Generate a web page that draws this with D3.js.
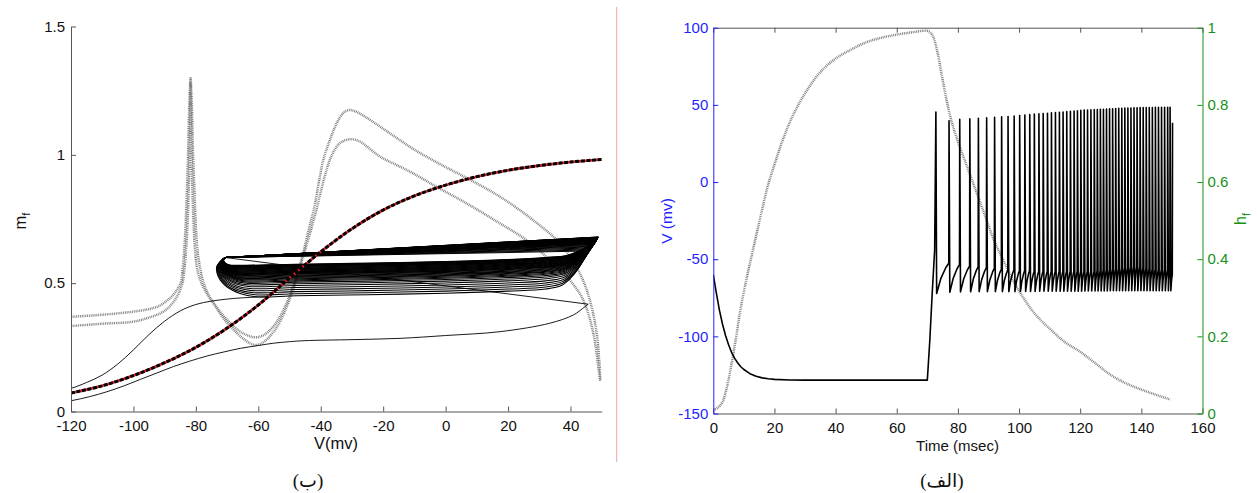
<!DOCTYPE html>
<html>
<head>
<meta charset="utf-8">
<script src="https://cdn.jsdelivr.net/npm/d3@7"></script>
<style>
  html, body { margin: 0; padding: 0; background: #fff; }
  svg { display: block; }
</style>
</head>
<body>
<svg id="fig" width="1257" height="493"></svg>
<script>
// ---------- Panel (b): phase plane m_f versus V ----------
const phaseXTicks = [-120, -100, -80, -60, -40, -20, 0, 20, 40];
const phaseYTicks = [0, 0.5, 1, 1.5];

// steady-state activation curve
const minfV = [-120, -110, -100, -90, -80, -70, -60, -50, -40, -30, -20, -10, 0, 10, 20, 30, 40, 50];
const minfM = [0.072, 0.1, 0.14, 0.19, 0.25, 0.325, 0.415, 0.52, 0.622, 0.712, 0.785, 0.84, 0.882, 0.915, 0.94, 0.958, 0.972, 0.982];

// dotted nullcline-like curves (upper and lower)
const curveUV = [-120, -110, -100, -95, -92, -89, -87, -84.9, -84.3, -83.9, -83.4, -82.9, -82.5, -82.1, -81.7, -81.3, -80.9, -80.4, -79.9, -79.2, -77.5, -75.5, -72, -69, -66, -63.5, -61, -58.5, -56, -53.5, -51, -48.5, -46, -44, -42, -40.5, -39.2, -37, -35, -33, -31.2, -29, -26, -21, -15, -10, -2, 6.7, 17.4, 28, 36.6, 43, 46.2, 48.4, 49.2, 49.6];
const curveUM = [0.369, 0.377, 0.389, 0.399, 0.41, 0.434, 0.458, 0.5, 0.55, 0.6, 0.7, 0.85, 1.0, 1.2, 1.298, 1.2, 1.0, 0.85, 0.7, 0.6, 0.5, 0.445, 0.385, 0.345, 0.313, 0.297, 0.289, 0.296, 0.32, 0.36, 0.42, 0.5, 0.6, 0.7, 0.8, 0.9, 0.98, 1.06, 1.12, 1.16, 1.174, 1.17, 1.15, 1.11, 1.06, 1.02, 0.965, 0.91, 0.837, 0.746, 0.655, 0.538, 0.434, 0.305, 0.2, 0.123];
const curveLV = [-120, -110, -100, -94, -91, -89, -87, -85.5, -84.3, -83.7, -83.2, -82.7, -82.3, -82, -81.7, -81.4, -81.1, -80.7, -80.2, -79.5, -78.2, -76.5, -74, -71, -68, -65, -62.5, -61, -59, -56.5, -54, -51.5, -49, -46.5, -44, -41.5, -39.5, -37.1, -35.5, -33.9, -31.2, -28, -21, -14.6, -10.4, -3, 6.7, 17.4, 25.9, 33.4, 39.8, 44.1, 47.3, 48.9, 49.5];
const curveLM = [0.333, 0.342, 0.35, 0.37, 0.385, 0.402, 0.43, 0.46, 0.5, 0.55, 0.62, 0.72, 0.86, 1.0, 1.28, 1.0, 0.86, 0.72, 0.62, 0.55, 0.5, 0.46, 0.415, 0.36, 0.32, 0.285, 0.265, 0.259, 0.265, 0.29, 0.33, 0.39, 0.47, 0.57, 0.67, 0.78, 0.88, 0.98, 1.02, 1.045, 1.06, 1.055, 0.993, 0.954, 0.928, 0.876, 0.811, 0.733, 0.668, 0.59, 0.512, 0.434, 0.305, 0.175, 0.12];

// trajectory: initial relaxation, ramp into the first spike, first repolarisation
const decayV = [-128, -120, -115, -110, -105, -100, -95, -90, -85, -80, -75, -70, -65, -60, -56];
const decayM = [0.065, 0.09, 0.113, 0.142, 0.185, 0.24, 0.3, 0.352, 0.392, 0.417, 0.43, 0.438, 0.443, 0.446, 0.448];
const rampV = [-128, -120, -114, -108.5, -103, -97.8, -92.5, -87.2, -82, -76.5, -71, -65.8, -60, -55.2, -50, -45, -30, -14.6, 0, 17.4, 33.4, 40.9, 44.6, 45.7];
const rampM = [0.03, 0.042, 0.058, 0.077, 0.1, 0.125, 0.15, 0.175, 0.196, 0.216, 0.232, 0.246, 0.257, 0.266, 0.272, 0.276, 0.28, 0.285, 0.296, 0.311, 0.344, 0.376, 0.408, 0.418];
const firstDownV = [45.7, -70.6];
const firstDownM = [0.418, 0.6];

// repetitive firing cycles: lower level of the recovery branch and the spike tip
const cycleLow = [0.447, 0.455, 0.463, 0.471, 0.479, 0.487, 0.494, 0.5, 0.505, 0.509, 0.513, 0.516, 0.519, 0.522, 0.525, 0.528, 0.531, 0.533, 0.535, 0.537, 0.539, 0.541, 0.543, 0.545, 0.547, 0.549, 0.551, 0.553, 0.555, 0.557, 0.559, 0.561, 0.563, 0.564, 0.565, 0.566, 0.567, 0.568, 0.569, 0.57];
const cyclePeakV = [45.2, 45.6, 46.0, 46.3, 46.6, 46.9, 47.1, 47.3, 47.5, 47.6, 47.7, 47.8, 47.9, 48.0, 48.1, 48.15, 48.2, 48.25, 48.3, 48.35, 48.4, 48.45, 48.5, 48.5, 48.55, 48.6, 48.6, 48.65, 48.7, 48.7, 48.75, 48.75, 48.8, 48.8, 48.85, 48.85, 48.9, 48.9, 48.9, 48.9];
const cyclePeakM = [0.625, 0.629, 0.633, 0.637, 0.641, 0.644, 0.647, 0.65, 0.652, 0.654, 0.656, 0.658, 0.66, 0.661, 0.662, 0.663, 0.664, 0.665, 0.666, 0.667, 0.668, 0.669, 0.67, 0.671, 0.672, 0.672, 0.673, 0.674, 0.674, 0.675, 0.676, 0.676, 0.677, 0.677, 0.678, 0.678, 0.679, 0.679, 0.68, 0.68];
const cycleTurnV = -70.6, cycleTurnM = 0.6;

// ---------- Panel (a): membrane potential and h_f versus time ----------
const timeTicks = [0, 20, 40, 60, 80, 100, 120, 140, 160];
const vTicks = [-150, -100, -50, 0, 50, 100];
const hTicks = [0, 0.2, 0.4, 0.6, 0.8, 1];

const restT = [0, 1, 2, 3, 4, 5, 6, 7, 8, 9, 10, 12, 14, 16, 18, 20, 25, 30, 50, 70, 70.8, 71.6, 72.4];
const restV = [-60, -72, -83, -92, -99.5, -105.5, -110.5, -114.3, -117.3, -119.7, -121.5, -124.2, -125.9, -126.9, -127.5, -127.9, -128.3, -128.4, -128.4, -128.4, -103, -72, -44];

const spikeT = [72.8, 77.1, 80.6, 83.9, 86.7, 89.4, 92.0, 94.3, 96.4, 98.4, 100.2, 101.9, 103.5, 105.0, 106.5, 107.9, 109.3, 110.6, 111.9, 113.2, 114.4, 115.6, 116.8, 118.0, 119.1, 120.2, 121.3, 122.4, 123.5, 124.6, 125.6, 126.6, 127.6, 128.6, 129.6, 130.6, 131.6, 132.6, 133.6, 134.6, 135.6, 136.6, 137.6, 138.6, 139.6, 140.6, 141.6, 142.6, 143.6, 144.6, 145.6, 146.6, 147.6, 148.6, 149.4, 150.2];
const spikePeak = [45.3, 39.7, 40.6, 41.0, 41.3, 41.6, 41.9, 42.2, 42.5, 42.8, 43.1, 43.4, 43.7, 44.0, 44.2, 44.4, 44.6, 44.8, 45.0, 45.2, 45.4, 45.6, 45.8, 46.0, 46.2, 46.4, 46.6, 46.7, 46.8, 46.9, 47.0, 47.1, 47.2, 47.3, 47.4, 47.5, 47.6, 47.7, 47.8, 47.9, 48.0, 48.0, 48.1, 48.1, 48.2, 48.2, 48.3, 48.3, 48.3, 48.4, 48.4, 48.4, 48.4, 48.4, 48.4, 38.4];
const spikeTrough = [-72.2, -71.4, -71.2, -71.1, -71, -71, -71, -71, -71, -71, -70.9, -70.9, -70.9, -70.9, -70.8, -70.8, -70.8, -70.8, -70.8, -70.8, -70.7, -70.7, -70.7, -70.7, -70.7, -70.7, -70.6, -70.6, -70.6, -70.6, -70.6, -70.6, -70.6, -70.6, -70.5, -70.5, -70.5, -70.5, -70.5, -70.5, -70.5, -70.5, -70.5, -70.5, -70.5, -70.5, -70.5, -70.5, -70.5, -70.5, -70.5, -70.5, -70.5, -70.5, -70.5, -70.5];
const spikeOnset = [-44, -52.6, -53.5, -54.5, -55, -55.5, -56, -56.5, -57, -57, -57.5, -57.5, -57.5, -58, -58, -58, -58, -58, -58, -58, -58, -58, -58, -58, -58, -58, -58, -58, -58, -58, -57.5, -57.5, -57, -57, -57, -56.5, -56.5, -56, -56, -55.5, -55.5, -55, -55, -55, -55, -55.5, -56, -56, -56.5, -56.5, -57, -57, -57, -57, -57, -60];

const hT = [0, 1.5, 3, 4.5, 6, 7.5, 9, 10.5, 12, 14, 16, 18, 20, 23, 26, 30, 35, 40, 45, 50, 55, 60, 65, 70, 71, 72, 73.5, 75, 77.5, 80, 83, 86, 89, 92, 95, 98, 101, 105, 110, 115, 120, 125, 130, 135, 140, 145, 149.5];
const hV = [0.009, 0.015, 0.03, 0.07, 0.13, 0.2, 0.275, 0.335, 0.39, 0.46, 0.53, 0.595, 0.645, 0.715, 0.772, 0.83, 0.885, 0.92, 0.943, 0.962, 0.974, 0.982, 0.988, 0.992, 0.987, 0.975, 0.93, 0.865, 0.77, 0.705, 0.64, 0.575, 0.51, 0.445, 0.395, 0.345, 0.305, 0.26, 0.22, 0.185, 0.16, 0.13, 0.1, 0.078, 0.062, 0.048, 0.036];

// ---------- drawing ----------
const FONT = "'Liberation Sans', Arial, Helvetica, sans-serif";
const svg = d3.select("#fig");
const zip = (a, b) => a.map((v, i) => [v, b[i]]);
const plainNum = d => String(d);   // hyphen-minus, as in the figure

// scales
const xP = d3.scaleLinear().domain([-120, 50]).range([71, 601.7]);
const yP = d3.scaleLinear().domain([0, 1.5]).range([411.5, 26.5]);
const xT = d3.scaleLinear().domain([0, 160]).range([713.3, 1202.5]);
const yV = d3.scaleLinear().domain([-150, 100]).range([413.5, 27.7]);
const yH = d3.scaleLinear().domain([0, 1]).range([413.5, 27.7]);

const defs = svg.append("defs");
defs.append("clipPath").attr("id", "clipP").append("rect")
  .attr("x", xP(-120)).attr("y", yP(1.5)).attr("width", xP(50) - xP(-120)).attr("height", yP(0) - yP(1.5));
defs.append("clipPath").attr("id", "clipT").append("rect")
  .attr("x", xT(0)).attr("y", yV(100)).attr("width", xT(160) - xT(0)).attr("height", yV(-150) - yV(100));

const lineP = d3.line().x(d => xP(d[0])).y(d => yP(d[1]));
const smoothP = d3.line().x(d => xP(d[0])).y(d => yP(d[1])).curve(d3.curveCatmullRom.alpha(0.5));

function dottedStroke(sel) {
  sel.attr("fill", "none").attr("stroke", "#7c7c7c").attr("stroke-width", 2.5)
     .attr("stroke-dasharray", "0.9 0.9");
}

// separator line between panels
svg.append("line").attr("x1", 616.7).attr("x2", 616.7).attr("y1", 7).attr("y2", 462)
  .attr("stroke", "#f4a3a3").attr("stroke-width", 1);

// ----- panel (b) -----
const gP = svg.append("g").attr("clip-path", "url(#clipP)");

gP.append("path").datum(zip(curveUV, curveUM)).attr("d", smoothP).call(dottedStroke);
gP.append("path").datum(zip(curveLV, curveLM)).attr("d", smoothP).call(dottedStroke);

const traj = gP.append("g").attr("fill", "none").attr("stroke", "#000").attr("stroke-width", 0.9);
traj.append("path").datum(zip(decayV, decayM)).attr("d", smoothP);
traj.append("path").datum(zip(rampV, rampM)).attr("d", smoothP);
traj.append("path").datum(zip(firstDownV, firstDownM)).attr("d", lineP);

// shape of one firing cycle in the (V, m) plane
const noseDV = [0, -2.7, -2.2, 0.5, 4.7, 10.1];
const noseFrac = [0, 0.235, 0.49, 0.745, 0.915, 1];
const baseV = [-48, -25, 0, 20, 32];
const baseDM = [0.004, 0.008, 0.014, 0.022, 0.03];
const riseS = [0.4, 0.62, 0.8, 0.92, 1];
const riseF = [0.1, 0.3, 0.55, 0.8, 1];

const cycles = traj.append("g").attr("stroke-width", 1.05);
cycleLow.forEach((low, i) => {
  const pv = cyclePeakV[i], pm = cyclePeakM[i];
  const depth = (cycleTurnM - low) / (cycleTurnM - cycleLow[0]);
  const pts = [];
  noseDV.forEach((dv, k) => pts.push([cycleTurnV + dv * depth, cycleTurnM - noseFrac[k] * (cycleTurnM - low)]));
  baseV.forEach((v, k) => pts.push([v, low + baseDM[k]]));
  const m0 = low + baseDM[baseDM.length - 1], v0 = baseV[baseV.length - 1];
  riseS.forEach((s, k) => pts.push([v0 + s * (pv - v0), m0 + riseF[k] * (pm - m0)]));
  cycles.append("path").datum(pts).attr("d", smoothP);
  cycles.append("path").datum([[pv, pm], [cycleTurnV, cycleTurnM]]).attr("d", lineP);
});

// steady-state curve: red line under black dashes
gP.append("path").datum(zip(minfV, minfM)).attr("d", smoothP)
  .attr("fill", "none").attr("stroke", "#e0202a").attr("stroke-width", 2.6);
gP.append("path").datum(zip(minfV, minfM)).attr("d", smoothP)
  .attr("fill", "none").attr("stroke", "#000").attr("stroke-width", 3)
  .attr("stroke-dasharray", "4 1.6");

// axes of panel (b)
function styleAxis(g, lineColor, textColor) {
  g.attr("font-size", 15).attr("font-family", FONT);
  g.select(".domain").attr("stroke", lineColor);
  g.selectAll(".tick line").attr("stroke", lineColor);
  g.selectAll(".tick text").attr("fill", textColor);
}
svg.append("g").attr("transform", `translate(0,${yP(0)})`)
  .call(d3.axisBottom(xP).tickValues(phaseXTicks).tickSize(-5).tickSizeOuter(0).tickPadding(8.5).tickFormat(plainNum))
  .call(g => styleAxis(g, "#555", "#111"));
svg.append("g").attr("transform", `translate(${xP(-120)},0)`)
  .call(d3.axisLeft(yP).tickValues(phaseYTicks).tickSize(-5).tickSizeOuter(0).tickPadding(6).tickFormat(plainNum))
  .call(g => styleAxis(g, "#555", "#111"));

svg.append("text").attr("x", 336).attr("y", 448.5).attr("text-anchor", "middle")
  .attr("font-family", FONT).attr("font-size", 16.5).attr("fill", "#111").text("V(mv)");
const mLab = svg.append("text").attr("transform", "translate(26,221) rotate(-90)")
  .attr("text-anchor", "middle").attr("font-family", FONT).attr("font-size", 16.5).attr("fill", "#111");
mLab.append("tspan").text("m");
mLab.append("tspan").attr("dy", 4).attr("font-size", 11).text("f");

// ----- panel (a) -----
const gT = svg.append("g").attr("clip-path", "url(#clipT)");
const lineT = d3.line().x(d => xT(d[0])).y(d => yV(d[1]));
const lineH = d3.line().x(d => xT(d[0])).y(d => yH(d[1])).curve(d3.curveCatmullRom.alpha(0.5));

gT.append("path").datum(zip(hT, hV)).attr("d", lineH).call(dottedStroke);

// voltage trace: rest and ramp, then each spike (onset, peak, trough, recovery)
const vPts = zip(restT, restV);
const nSp = Math.min(spikeT.length, spikePeak.length, spikeTrough.length, spikeOnset.length);
for (let i = 0; i < nSp; i++) {
  if (i > 0) vPts.push([spikeT[i] - 0.08, spikeOnset[i]]);
  vPts.push([spikeT[i], spikePeak[i]]);
  if (i === nSp - 1) break;
  const tTr = spikeT[i] + 0.25, tNext = spikeT[i + 1] - 0.08;
  const gap = tNext - tTr, lo = spikeTrough[i], rise = spikeOnset[i + 1] - lo;
  vPts.push([tTr, lo]);
  vPts.push([tTr + 0.35 * gap, lo + 0.5 * rise]);
  vPts.push([tTr + 0.75 * gap, lo + 0.85 * rise]);
}
gT.append("path").datum(vPts).attr("d", lineT)
  .attr("fill", "none").attr("stroke", "#000").attr("stroke-width", 1.6).attr("stroke-linejoin", "round");

// axes of panel (a)
svg.append("g").attr("transform", `translate(0,${yV(-150)})`)
  .call(d3.axisBottom(xT).tickValues(timeTicks).tickSize(-5).tickSizeOuter(0).tickPadding(8.5).tickFormat(plainNum))
  .call(g => styleAxis(g, "#555", "#111"));
svg.append("g").attr("transform", `translate(0,${yV(100)})`)
  .call(d3.axisTop(xT).tickValues(timeTicks).tickSize(-5).tickSizeOuter(0).tickFormat(""))
  .call(g => styleAxis(g, "#555", "#111"));
svg.append("g").attr("transform", `translate(${xT(0)},0)`)
  .call(d3.axisLeft(yV).tickValues(vTicks).tickSize(-5).tickSizeOuter(0).tickPadding(5).tickFormat(plainNum))
  .call(g => styleAxis(g, "#1f1fff", "#1f1fff"));
svg.append("g").attr("transform", `translate(${xT(160)},0)`)
  .call(d3.axisRight(yH).tickValues(hTicks).tickSize(-5).tickSizeOuter(0).tickPadding(5).tickFormat(plainNum))
  .call(g => styleAxis(g, "#169016", "#169016"));

svg.append("text").attr("x", 957.5).attr("y", 450.5).attr("text-anchor", "middle")
  .attr("font-family", FONT).attr("font-size", 15).attr("fill", "#111").text("Time (msec)");
svg.append("text").attr("transform", "translate(672,221) rotate(-90)").attr("text-anchor", "middle")
  .attr("font-family", FONT).attr("font-size", 15.5).attr("fill", "#1f1fff").text("V (mv)");
const hLab = svg.append("text").attr("transform", "translate(1246,219) rotate(-90)")
  .attr("text-anchor", "middle").attr("font-family", FONT).attr("font-size", 16).attr("fill", "#169016");
hLab.append("tspan").text("h");
hLab.append("tspan").attr("dy", 4).attr("font-size", 11).text("f");

// panel captions
const CAP = "'Liberation Serif', 'Times New Roman', 'DejaVu Sans', serif";
svg.append("text").attr("x", 308).attr("y", 487).attr("text-anchor", "middle")
  .attr("font-family", CAP).attr("font-size", 19).attr("fill", "#111").text("(ب)");
svg.append("text").attr("x", 942).attr("y", 487).attr("text-anchor", "middle")
  .attr("font-family", CAP).attr("font-size", 19).attr("fill", "#111").attr("direction", "rtl").text("(الف)");
</script>
</body>
</html>
